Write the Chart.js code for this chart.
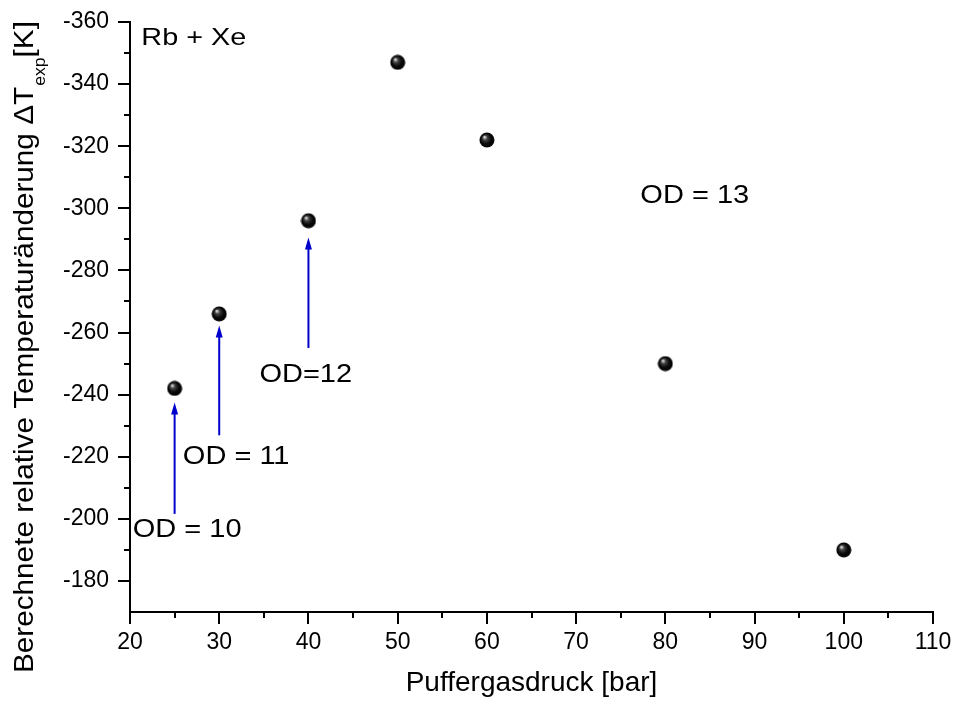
<!DOCTYPE html>
<html>
<head>
<meta charset="utf-8">
<script src="https://cdn.jsdelivr.net/npm/chart.js@4/dist/chart.umd.min.js"></script>
<style>
html,body{margin:0;padding:0;background:#fff;}
canvas{display:block;}
</style>
</head>
<body>
<canvas id="c" width="955" height="704"></canvas>
<script>
// ---- data ----
const pressures = [25, 30, 40, 50, 60, 80, 100];
const deltaT = [-242, -266, -296, -347, -322, -250, -190];
const xTicks = [20, 30, 40, 50, 60, 70, 80, 90, 100, 110];
const yTicks = [-360, -340, -320, -300, -280, -260, -240, -220, -200, -180];
const labelTexts = ['Rb + Xe', 'OD = 13', 'OD=12', 'OD = 11', 'OD = 10'];
const labelX = [27.15, 83.3, 39.7, 31.9, 26.4];
const labelY = [-354.6, -303.9, -246.4, -220, -196.3];
const arrowX = [25, 30, 40];
const arrowFrom = [-201.6, -226.9, -255];
const arrowTo = [-237.5, -262.3, -290.6];

const FONT = '"Liberation Sans", Arial, sans-serif';

// sphere marker
const sphere = document.createElement('canvas');
sphere.width = 16; sphere.height = 16;
(function(){
  const g = sphere.getContext('2d');
  const grad = g.createRadialGradient(5.5, 5, 0.5, 8, 8, 8);
  grad.addColorStop(0, '#d8d8d8');
  grad.addColorStop(0.25, '#444');
  grad.addColorStop(0.6, '#0a0a0a');
  grad.addColorStop(1, '#000');
  g.fillStyle = grad;
  g.beginPath(); g.arc(8, 8, 7.5, 0, Math.PI*2); g.fill();
})();

const decorPlugin = {
  id: 'decor',
  afterDraw(chart) {
    const ctx = chart.ctx;
    const xs = chart.scales.x, ys = chart.scales.y;
    ctx.save();
    ctx.strokeStyle = '#000';
    ctx.lineWidth = 2;
    // x ticks (major every 10, minor every 5)
    for (let v = 20; v <= 110; v += 5) {
      const px = Math.round(xs.getPixelForValue(v));
      const len = (v % 10 === 0) ? 12 : 6;
      ctx.beginPath(); ctx.moveTo(px, ys.bottom); ctx.lineTo(px, ys.bottom + len); ctx.stroke();
    }
    // y ticks (major every 20, minor every 10)
    for (let v = -360; v <= -180; v += 10) {
      const py = Math.round(ys.getPixelForValue(v));
      const len = (v % 20 === 0) ? 12 : 6;
      ctx.beginPath(); ctx.moveTo(xs.left, py); ctx.lineTo(xs.left - len, py); ctx.stroke();
    }
    // arrows
    ctx.strokeStyle = '#0000cc';
    ctx.fillStyle = '#0000cc';
    ctx.lineWidth = 2;
    for (let i = 0; i < arrowX.length; i++) {
      const px = xs.getPixelForValue(arrowX[i]);
      const y0 = ys.getPixelForValue(arrowFrom[i]);
      const y1 = ys.getPixelForValue(arrowTo[i]);
      ctx.beginPath(); ctx.moveTo(px, y0); ctx.lineTo(px, y1 + 10); ctx.stroke();
      ctx.beginPath(); ctx.moveTo(px, y1); ctx.lineTo(px - 3.5, y1 + 12); ctx.lineTo(px + 3.5, y1 + 12); ctx.closePath(); ctx.fill();
    }
    // text labels (slightly wide lettering as in the original)
    ctx.fillStyle = '#000';
    ctx.textAlign = 'center';
    ctx.textBaseline = 'middle';
    for (let i = 0; i < labelTexts.length; i++) {
      ctx.save();
      ctx.translate(xs.getPixelForValue(labelX[i]), ys.getPixelForValue(labelY[i]));
      ctx.scale(i === 0 ? 1.2 : 1.16, 1);
      ctx.font = (i === 0 ? '24px ' : '25px ') + FONT;
      ctx.fillText(labelTexts[i], 0, 0);
      ctx.restore();
    }
    // y axis title with subscript
    ctx.translate(33, 673);
    ctx.rotate(-Math.PI / 2);
    ctx.scale(1.1, 1);
    ctx.textAlign = 'left';
    ctx.textBaseline = 'alphabetic';
    ctx.font = '27px ' + FONT;
    const main = 'Berechnete relative Temperaturänderung ΔT';
    ctx.fillText(main, 0, 0);
    let w = ctx.measureText(main).width;
    ctx.font = '16px ' + FONT;
    ctx.fillText('exp', w + 1, 12);
    w += ctx.measureText('exp').width + 1;
    ctx.font = '27px ' + FONT;
    ctx.fillText('[K]', w, 0);
    ctx.restore();
  }
};

new Chart(document.getElementById('c'), {
  type: 'scatter',
  data: {
    datasets: [{
      data: pressures.map((p, i) => ({x: p, y: deltaT[i]})),
      pointStyle: sphere,
      pointRadius: 8,
      showLine: false
    }]
  },
  options: {
    responsive: false,
    animation: false,
    layout: {padding: {top: 22, right: 22, left: 0, bottom: 0}},
    plugins: {legend: {display: false}, tooltip: {enabled: false}},
    scales: {
      x: {
        type: 'linear',
        min: 20, max: 110,
        afterBuildTicks: s => { s.ticks = xTicks.map(v => ({value: v})); },
        afterFit: s => { s.height = 92; s.paddingLeft = 0; s.paddingRight = 0; },
        grid: {display: false, drawTicks: false},
        border: {display: true, color: '#000', width: 2},
        ticks: {color: '#000', font: {family: FONT, size: 23}, padding: 17, autoSkip: false, maxRotation: 0},
        title: {display: true, text: 'Puffergasdruck [bar]', color: '#000', font: {family: FONT, size: 28}, padding: {top: 8}}
      },
      y: {
        type: 'linear',
        min: -360, max: -170,
        reverse: true,
        afterBuildTicks: s => { s.ticks = yTicks.map(v => ({value: v})); },
        afterFit: s => { s.width = 130; s.paddingTop = 0; s.paddingBottom = 0; },
        grid: {display: false, drawTicks: false},
        border: {display: true, color: '#000', width: 2},
        ticks: {color: '#000', font: {family: FONT, size: 23}, padding: 21, autoSkip: false}
      }
    }
  },
  plugins: [decorPlugin]
});
</script>
</body>
</html>
